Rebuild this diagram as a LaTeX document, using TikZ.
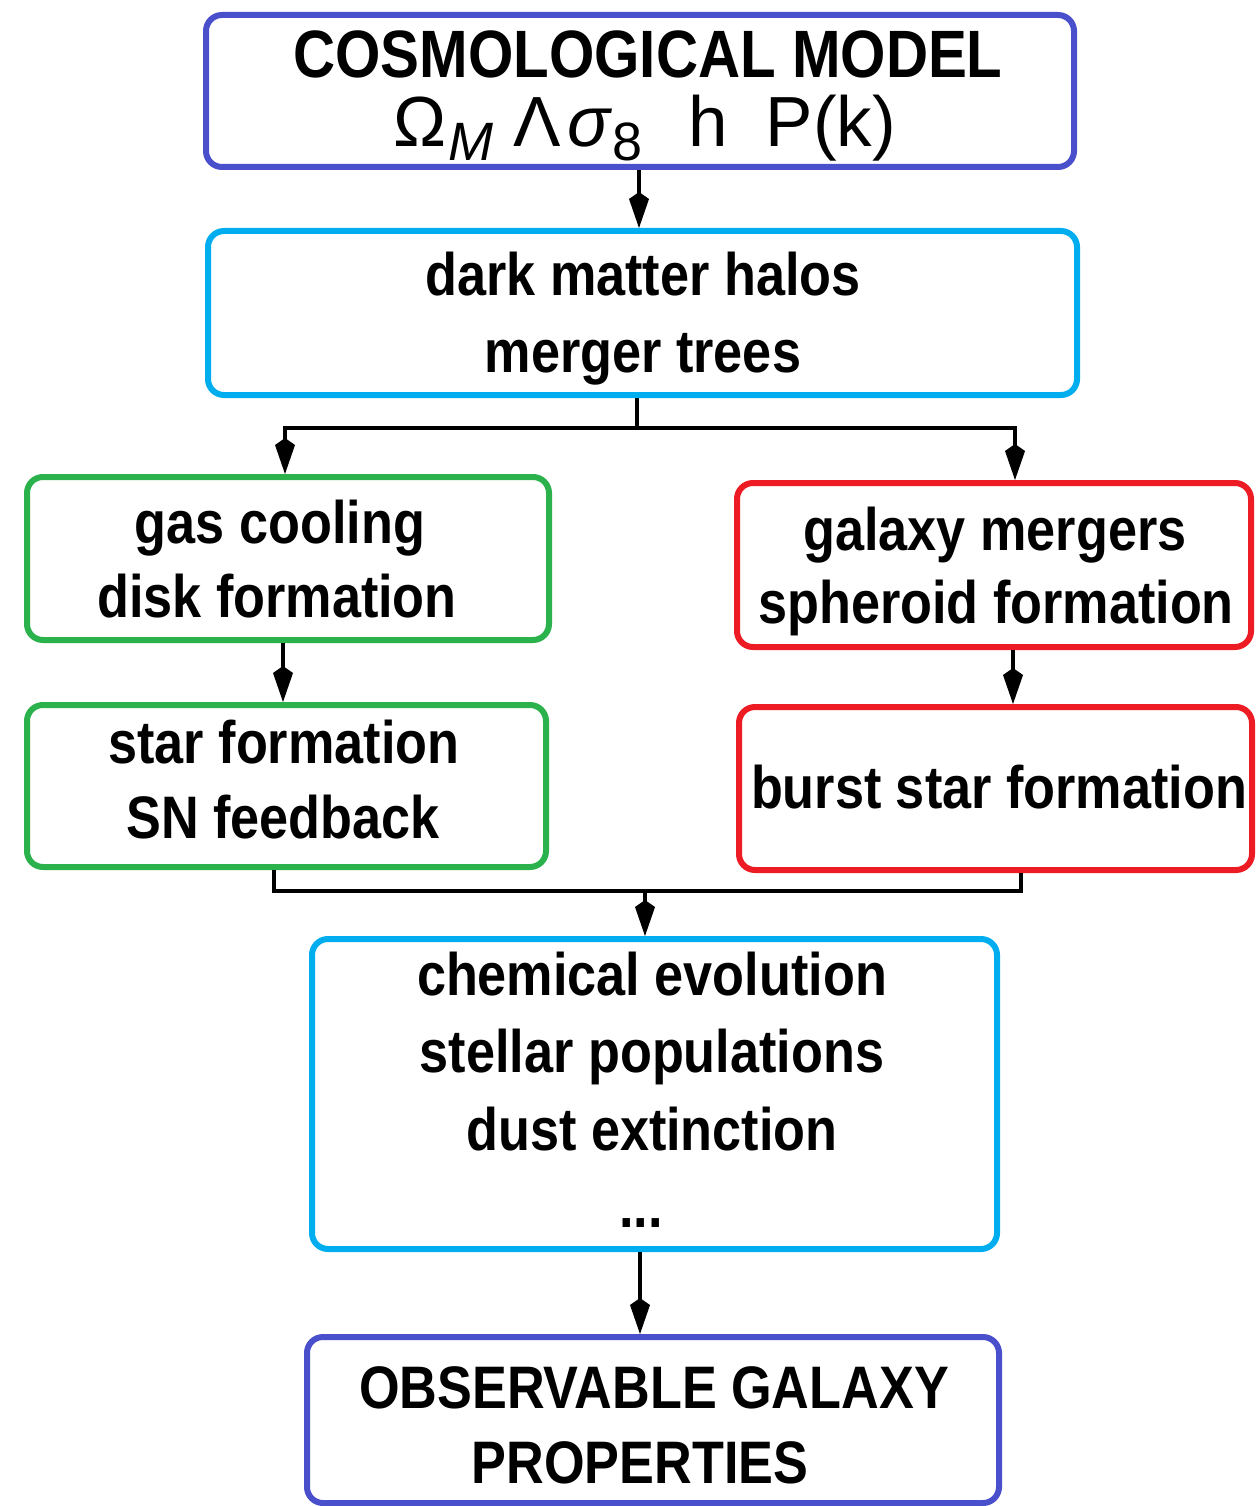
\documentclass[tikz,border=0pt]{standalone}
\usepackage{fontspec}
\setmainfont{Liberation Sans}[FakeStretch=0.87]
\newfontfamily\formfont{Liberation Sans}
\usetikzlibrary{arrows.meta}
\definecolor{cviolet}{HTML}{4A4FCB}
\definecolor{ccyan}{HTML}{00AEEF}
\definecolor{cgreen}{HTML}{2BB24C}
\definecolor{cred}{HTML}{ED1C24}
\tikzset{
  box/.style={draw=#1, line width=6pt, rounded corners=16pt, inner sep=0pt, fill=none},
  lbl/.style={anchor=base, inner sep=0pt, font=\fontsize{60}{72}\selectfont\bfseries},
  conn/.style={line width=4.5pt, draw=black},
  arr/.style={conn, -{Kite[length=36pt,width=20pt,inset=7pt]}}
}
\newcommand{\subtx}[1]{\raisebox{-14pt}{\fontsize{54}{60}\selectfont #1}}
\begin{document}
\begin{tikzpicture}[x=1pt,y=-1pt]
\useasboundingbox[fill=white] (0,0) rectangle (1257,1506);
% boxes
\node[box=cviolet, minimum width=868pt, minimum height=152pt] (cosmo) at (640,91) {};
\node[box=ccyan,   minimum width=869pt, minimum height=164pt] (dm)    at (642.5,313) {};
\node[box=cgreen,  minimum width=522pt, minimum height=163pt] (gas)   at (288,558.5) {};
\node[box=cred,    minimum width=514pt, minimum height=164pt] (merg)  at (994,565) {};
\node[box=cgreen,  minimum width=519pt, minimum height=162pt] (star)  at (286.5,786) {};
\node[box=cred,    minimum width=513pt, minimum height=163pt] (burst) at (995.5,788.5) {};
\node[box=ccyan,   minimum width=685pt, minimum height=310pt] (chem)  at (654.5,1094) {};
\node[box=cviolet, minimum width=692pt, minimum height=166pt] (obs)   at (653,1420) {};
% texts
\node[lbl, font=\fontsize{67}{72}\selectfont\bfseries] (t1) at (648,78) {COSMOLOGICAL MODEL};
\node[anchor=base, inner sep=0pt, font=\fontsize{71}{80}\formfont] (t2) at (645,147)
  {Ω\hspace{2pt}\subtx{\itshape M}\hspace{20pt}Λ\hspace{6pt}\textit{σ}\subtx{8}\hspace{46pt}h\hspace{38pt}P(k)};
\node[lbl] (t3) at (643,295) {dark matter halos};
\node[lbl] (t4) at (643,372) {merger trees};
\node[lbl] (t5) at (280,543) {gas cooling};
\node[lbl] (t6) at (277,617) {disk formation};
\node[lbl] (t7) at (995,550) {galaxy mergers};
\node[lbl] (t8) at (996,623) {spheroid formation};
\node[lbl] (t9) at (284,763) {star formation};
\node[lbl] (t10) at (283,838) {SN feedback};
\node[lbl] (t11) at (999,808) {burst star formation};
\node[lbl] (t12) at (652,995) {chemical evolution};
\node[lbl] (t13) at (652,1072) {stellar populations};
\node[lbl] (t14) at (652,1150) {dust extinction};
\node[lbl] (t15) at (641,1227) {...};
\node[lbl] (t16) at (654,1408) {OBSERVABLE GALAXY};
\node[lbl] (t17) at (640,1483) {PROPERTIES};
% helper coordinates
\coordinate (x639) at (639,0);
\coordinate (j1) at (637,428);
\coordinate (x285) at (285,0);
\coordinate (x1015) at (1015,0);
\coordinate (x283) at (283,0);
\coordinate (x1013) at (1013,0);
\coordinate (x274) at (274,0);
\coordinate (x1021) at (1021,0);
\coordinate (j2) at (645,891);
\coordinate (x640) at (640,0);
% connectors
\draw[arr] (cosmo.south -| x639) -- (dm.north -| x639);
\draw[conn] (dm.south -| j1) -- (j1);
\draw[arr] (j1) -| (gas.north -| x285);
\draw[arr] (j1) -| (merg.north -| x1015);
\draw[arr] (gas.south -| x283) -- (star.north -| x283);
\draw[arr] (merg.south -| x1013) -- (burst.north -| x1013);
\draw[conn] (star.south -| x274) -- (x274 |- j2) -- (x1021 |- j2) -- (burst.south -| x1021);
\draw[arr] (j2) -- (chem.north -| j2);
\draw[arr] (chem.south -| x640) -- (obs.north -| x640);
\end{tikzpicture}
\end{document}
